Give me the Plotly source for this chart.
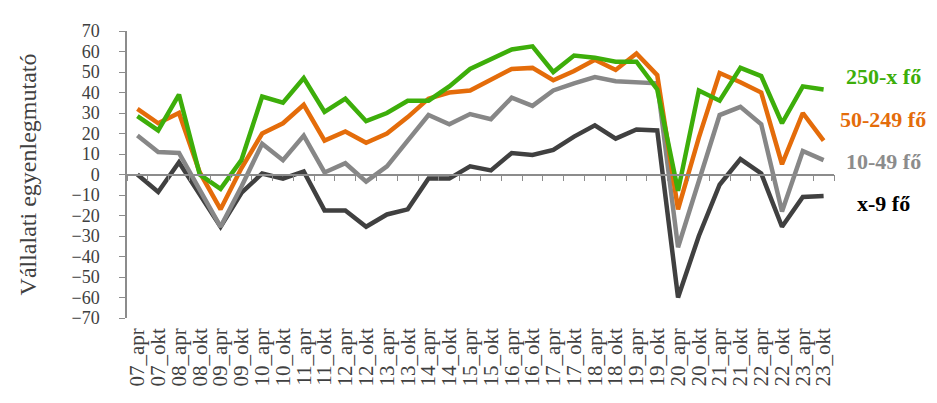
import plotly.graph_objects as go

categories = ["07_apr", "07_okt", "08_apr", "08_okt", "09_apr", "09_okt", "10_apr", "10_okt",
              "11_apr", "11_okt", "12_apr", "12_okt", "13_apr", "13_okt", "14_apr", "14_okt",
              "15_apr", "15_okt", "16_apr", "16_okt", "17_apr", "17_okt", "18_apr", "18_okt",
              "19_apr", "19_okt", "20_apr", "20_okt", "21_apr", "21_okt", "22_apr", "22_okt",
              "23_apr", "23_okt"]

val_250x = [28.5, 21.5, 39, 0, -7, 7, 38, 35, 47, 30.5, 37, 26, 30, 36, 36, 43,
            51.5, 56, 61, 62.5, 50, 58, 57, 55, 55, 41.5, -8, 41, 36, 52, 48, 25, 43, 41.5]
val_50_249 = [32, 25, 30, 1, -17, 3, 20, 25, 34, 16.5, 21, 15.5, 20, 28, 37, 40,
              41, 46.5, 51.5, 52, 46, 50.5, 56, 51, 59, 48.5, -17, 18, 49.5, 45, 40, 5, 30, 16.5]
val_10_49 = [19, 11, 10.5, -8, -25.5, -6, 15, 7, 19, 1, 5.5, -3.5, 4, 16.5, 29, 24.5,
             29.5, 27, 37.5, 33.5, 41, 44.5, 47.5, 45.5, 45, 44.5, -35.5, -3, 29, 33, 24.5, -18, 11.5, 7]
val_x_9 = [0, -8.5, 6, -10, -25.5, -9, 0.5, -2, 1.5, -17.5, -17.5, -25.5, -19.5, -17, -2, -2,
           4, 2, 10.5, 9.5, 12, 18.5, 24, 17.5, 22, 21.5, -60, -30, -5, 7.5, 0.5, -25.5, -11, -10.5]

series_names = ["x-9 fő", "10-49 fő", "50-249 fő", "250-x fő"]
series_values = [val_x_9, val_10_49, val_50_249, val_250x]
line_colors = ["#404040", "#878787", "#E46C0A", "#3DAE0A"]
label_colors = ["#000000", "#8C8C8C", "#E46C0A", "#3DAE0A"]
label_ypos = [0.400, 0.546, 0.693, 0.842]

FONT = "Liberation Serif, serif"

fig = go.Figure()
for name, vals, col in zip(series_names, series_values, line_colors):
    fig.add_trace(go.Scatter(x=categories, y=vals, mode="lines", name=name,
                             line=dict(color=col, width=4.5), showlegend=False))

# helper trace for the bottom label axis
fig.add_trace(go.Scatter(x=categories, y=[None] * len(categories), xaxis="x2",
                         mode="lines", showlegend=False, hoverinfo="skip"))

for name, col, yp in zip(series_names, label_colors, label_ypos):
    fig.add_annotation(text="<b>" + name + "</b>", xref="paper", yref="paper",
                       x=1.07, y=yp, showarrow=False, xanchor="center", yanchor="middle",
                       font=dict(family=FONT, size=22, color=col))

fig.update_layout(
    width=937, height=403,
    margin=dict(l=119, r=111, t=23, b=93),
    paper_bgcolor="white", plot_bgcolor="white",
    font=dict(family=FONT, color="#404040"),
    xaxis=dict(type="category", range=[-0.5, len(categories) - 0.5],
               anchor="free", position=0.5, showline=True, linecolor="#8C8C8C", linewidth=1.5,
               ticks="outside", tickson="boundaries", ticklen=6, tickcolor="#8C8C8C", tickwidth=1.3,
               showticklabels=False, showgrid=False, zeroline=False),
    xaxis2=dict(type="category", overlaying="x", matches="x", anchor="y", side="bottom",
                tickmode="array", tickvals=categories, ticktext=categories,
                showline=False, ticks="", showgrid=False, zeroline=False,
                tickangle=-90, tickfont=dict(family=FONT, size=21, color="#404040"),
                ticklabelstandoff=5),
    yaxis=dict(range=[-70, 70], dtick=10, showline=True, linecolor="#8C8C8C", linewidth=1.5,
               ticks="outside", ticklen=6, tickcolor="#8C8C8C", tickwidth=1.3,
               showgrid=False, zeroline=False, ticklabelstandoff=16,
               tickfont=dict(family=FONT, size=18, color="#404040"),
               title=dict(text="Vállalati egyenlegmutató", standoff=28,
                          font=dict(family=FONT, size=24, color="#404040"))),
)

fig.write_html("out.html")
